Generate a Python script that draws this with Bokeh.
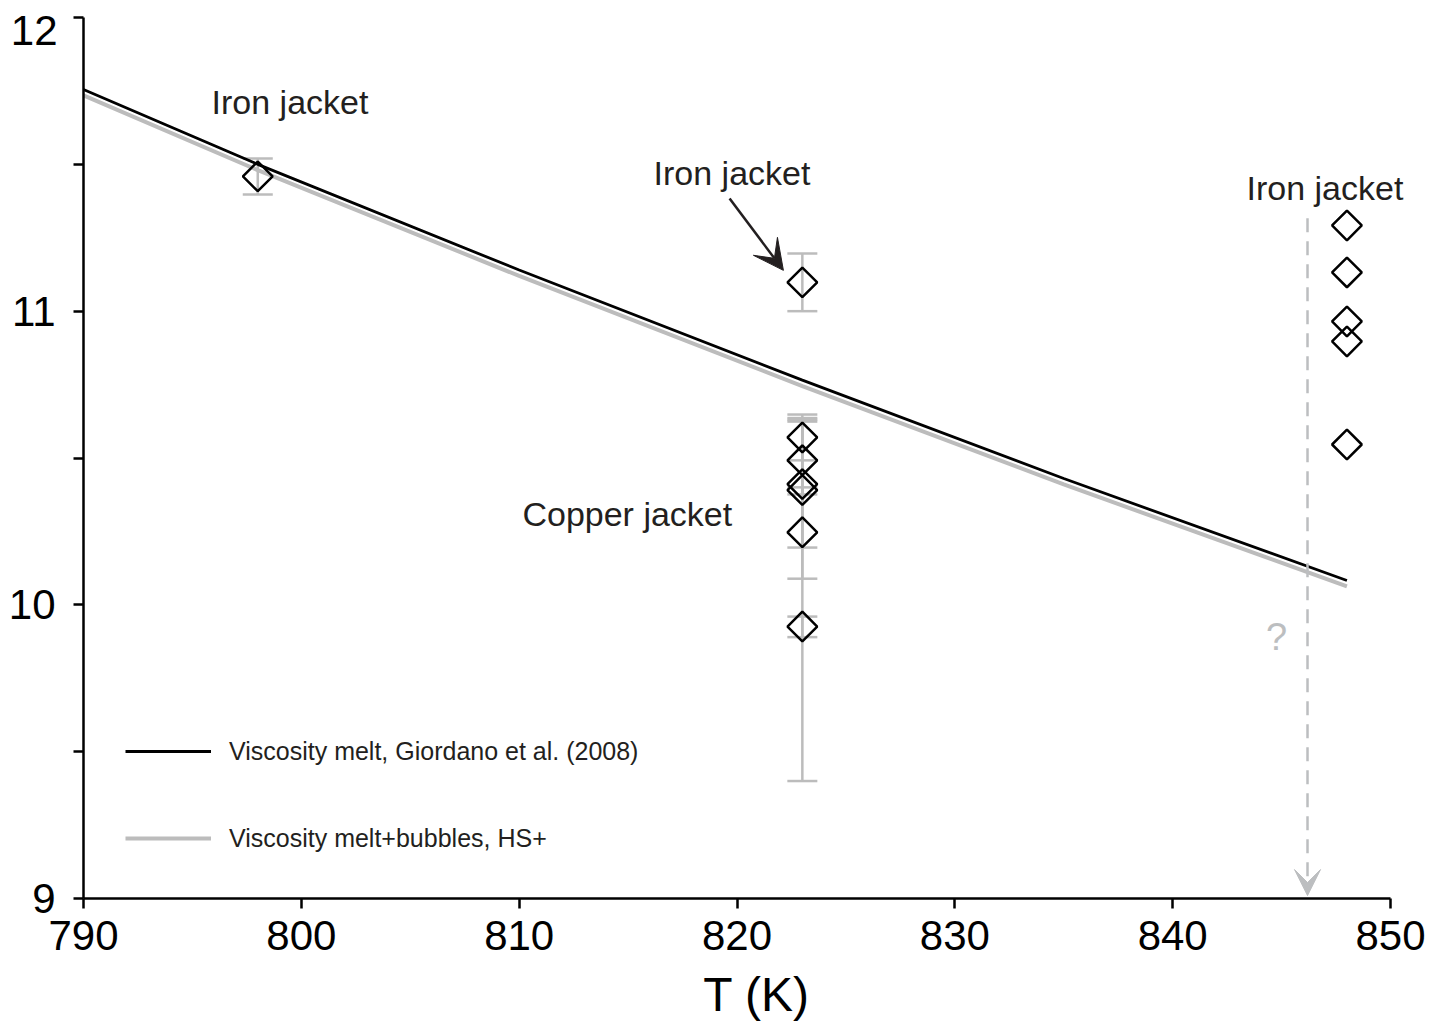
import numpy as np
from bokeh.plotting import figure
from bokeh.models import (Range1d, FixedTicker, ColumnDataSource, Whisker, TeeHead,
                          Arrow, VeeHead, Legend, LegendItem, LabelSet, Label)
from bokeh.core.properties import value
from bokeh.embed import file_html
from bokeh.resources import INLINE

# ---- data ----
line_T = [790, 798, 810, 823, 835, 848]
visc_melt = [11.755, 11.50, 11.14, 10.765, 10.43, 10.083]
visc_bubbles = [11.735, 11.48, 11.12, 10.745, 10.41, 10.063]

# measured points with error bars (iron at 798 & 823, copper at 823)
err_T = [798, 823, 823, 823, 823, 823, 823, 823]
err_val = [11.459, 11.098, 10.570, 10.492, 10.411, 10.391, 10.247, 9.926]
err_upper = [11.52, 11.196, 10.648, 10.636, 10.624, 10.63, 10.40, 9.96]
err_lower = [11.397, 11.0, 10.492, 10.376, 10.195, 9.40, 10.089, 9.89]

# iron jacket at 848 K (no error bars)
iron848_T = [848, 848, 848, 848, 848]
iron848_val = [11.292, 11.132, 10.965, 10.897, 10.546]

x_ticks = [790, 800, 810, 820, 830, 840, 850]
y_ticks = [9, 10, 11, 12]
y_minor = [9.5, 10.5, 11.5]

labels_text = ["Iron jacket", "Iron jacket", "Iron jacket", "Copper jacket"]
labels_x = [795.88, 816.17, 843.39, 810.15]
labels_y = [11.670, 11.428, 11.380, 10.270]

FONT = "Liberation Sans"
GRAY = "#bcbcbc"
ARROW_GRAY = "#bcbec0"
TXT = "#231f20"

# axes span 790-850 / 9-12 (drawn with fixed locations and bounds); the frame
# covers the whole canvas so that no text near the edges gets clipped
X0, X1, Y0, Y1 = 790, 850, 9, 12
px_per_x = (1390 - 83) / (X1 - X0)
px_per_y = (898 - 17) / (Y1 - Y0)
x_lo = X0 - 83 / px_per_x
x_hi = X1 + (1447 - 1390) / px_per_x
y_lo = Y0 - (1023 - 898) / px_per_y
y_hi = Y1 + 17 / px_per_y

p = figure(width=1447, height=1023, output_backend="svg", toolbar_location=None,
           x_range=Range1d(x_lo, x_hi), y_range=Range1d(y_lo, y_hi), min_border=0)
p.outline_line_color = None
p.xgrid.visible = False
p.ygrid.visible = False
p.background_fill_color = "white"

# axes
p.xaxis.ticker = FixedTicker(ticks=x_ticks)
p.yaxis.ticker = FixedTicker(ticks=y_ticks, minor_ticks=y_minor)
p.xaxis.bounds = (X0, X1)
p.yaxis.bounds = (Y0, Y1)
p.yaxis.fixed_location = X0
p.xaxis.fixed_location = Y0
for ax in (p.xaxis, p.yaxis):
    ax.axis_line_width = 2.5
    ax.axis_line_color = "black"
    ax.major_tick_line_width = 2.5
    ax.minor_tick_line_width = 2.5
    ax.major_tick_out = 10
    ax.major_tick_in = 0
    ax.minor_tick_out = 10
    ax.minor_tick_in = 0
    ax.major_label_text_font = FONT
    ax.major_label_text_font_size = "42px"
    ax.major_label_text_color = "black"
p.xaxis.minor_tick_line_color = None
p.xaxis.major_label_standoff = 12
p.yaxis.major_label_standoff = 18
p.yaxis.major_label_overrides = {12: ""}

# top tick label placed slightly below its tick (as in the reference)
p.add_layout(Label(x=X0 - 26 / px_per_x, y=Y1 - 13 / px_per_y, text="12",
                   text_align="right", text_baseline="middle",
                   text_font=FONT, text_font_size="42px", text_color="black"))
# x axis title
p.add_layout(Label(x=X0 + (756 - 83) / px_per_x, y=Y0 - 96 / px_per_y, text="T (K)",
                   text_align="center", text_baseline="middle",
                   text_font=FONT, text_font_size="48px", text_color="black"))

# viscosity model lines
r_gray = p.line(line_T, visc_bubbles, line_color=GRAY, line_width=4)
r_black = p.line(line_T, visc_melt, line_color="black", line_width=2.8)

# error bars
src = ColumnDataSource(data=dict(x=err_T, y=err_val, upper=err_upper, lower=err_lower))
wh = Whisker(source=src, base="x", upper="upper", lower="lower", dimension="height",
             line_color=GRAY, line_width=2.5, level="underlay",
             upper_head=TeeHead(size=30, line_color=GRAY, line_width=2.5),
             lower_head=TeeHead(size=30, line_color=GRAY, line_width=2.5))
p.add_layout(wh)

# diamonds
p.scatter(err_T, err_val, marker="square", size=21, angle=np.pi / 4,
          fill_color=None, line_color="black", line_width=2.5)
p.scatter(iron848_T, iron848_val, marker="square", size=21, angle=np.pi / 4,
          fill_color=None, line_color="black", line_width=2.5)

# labels
lab_src = ColumnDataSource(data=dict(x=labels_x, y=labels_y, text=labels_text))
p.add_layout(LabelSet(x="x", y="y", text="text", source=lab_src, text_font=value(FONT),
                      text_font_size="34px", text_baseline="alphabetic", text_align="left",
                      text_color=TXT))
p.add_layout(Label(x=844.77, y=9.889, text="?", text_font=FONT, text_font_size="38px",
                   text_baseline="middle", text_align="center", text_color=ARROW_GRAY))

# annotation arrows
p.add_layout(Arrow(x_start=819.66, y_start=11.384, x_end=822.13, y_end=11.139,
                   line_color=TXT, line_width=2.5,
                   end=VeeHead(size=30, fill_color=TXT, line_color=TXT, line_width=1)))
p.add_layout(Arrow(x_start=846.19, y_start=11.316, x_end=846.19, y_end=9.01,
                   line_color=ARROW_GRAY, line_width=2.5, line_dash="14 9",
                   end=VeeHead(size=26, fill_color=ARROW_GRAY, line_color=ARROW_GRAY, line_width=1)))

# legend
legend = Legend(items=[LegendItem(label="Viscosity melt, Giordano et al. (2008)", renderers=[r_black]),
                       LegendItem(label="Viscosity melt+bubbles, HS+", renderers=[r_gray])],
                location=(125, 170), orientation="vertical", glyph_width=86, glyph_height=30,
                label_height=30, spacing=57, label_standoff=18, padding=0, margin=0,
                border_line_color=None, background_fill_alpha=0,
                label_text_font=FONT, label_text_font_size="25px", label_text_color=TXT)
p.add_layout(legend)

open("out.html", "w").write(file_html(p, INLINE))
